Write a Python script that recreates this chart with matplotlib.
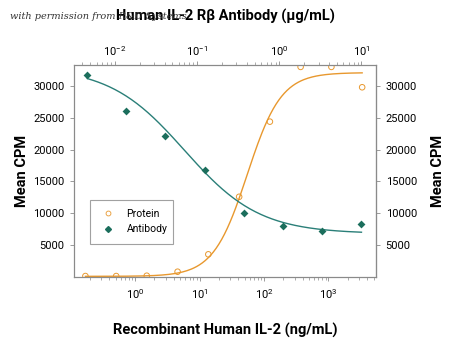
import matplotlib
matplotlib.use('Agg')
import matplotlib.pyplot as plt
from matplotlib.lines import Line2D
import numpy as np

plt.rcParams['font.family'] = ['Roboto', 'DejaVu Sans']
plt.rcParams['mathtext.fontset'] = 'custom'
plt.rcParams['mathtext.rm'] = 'Roboto'
plt.rcParams['mathtext.it'] = 'Roboto:italic'

# Recombinant Human IL-2 (ng/mL) -> Mean CPM
proteinConc = [0.17, 0.51, 1.52, 4.57, 13.7, 41.2, 123.5, 370, 1111, 3333]
proteinCPM = [150, 150, 200, 830, 3560, 12600, 24400, 33000, 33000, 29800]
# Human IL-2 Rbeta Antibody (ug/mL) -> Mean CPM
antibodyConc = [0.0046, 0.0137, 0.041, 0.123, 0.37, 1.11, 3.33, 10.0]
antibodyCPM = [31800, 26000, 22100, 16800, 10100, 8050, 7250, 8300]

# four-parameter logistic fit estimates (value at low conc, value at high conc, EC50, hill)
proteinFit = [100, 32100, 55.0, 1.65]
antibodyFit = [33000, 6800, 0.07, 0.95]

proteinColor = '#E8982E'
antibodyLine = '#2A7F78'
antibodyMarker = '#1B6E5C'
spineColor = '#8a8a8a'

def logistic(x, p):
    low, high, ec50, hill = p
    return low + (high - low) / (1 + (ec50 / x) ** hill)

fig = plt.figure(figsize=(4.5, 3.39), dpi=100)
ax = fig.add_axes([0.1644, 0.1829, 0.671, 0.6254])
ax.set_xscale('log')
ax.set_xlim(0.113, 5450)
ax.set_ylim(0, 33300)

axTop = ax.twiny()
axTop.set_xscale('log')
axTop.set_xlim(0.00316, 15)

xp = np.logspace(np.log10(proteinConc[0]), np.log10(proteinConc[-1]), 200)
ax.plot(xp, logistic(xp, proteinFit), color=proteinColor, lw=1.0, zorder=2)
ax.scatter(proteinConc, proteinCPM, marker='o', s=16, facecolors='none',
           edgecolors=proteinColor, linewidths=0.7, zorder=3)

xa = np.logspace(np.log10(antibodyConc[0]), np.log10(antibodyConc[-1]), 200)
axTop.plot(xa, logistic(xa, antibodyFit), color=antibodyLine, lw=1.0, zorder=2)
axTop.scatter(antibodyConc, antibodyCPM, marker='D', s=16, color=antibodyMarker,
              linewidths=0, zorder=3)

ax.set_yticks([5000, 10000, 15000, 20000, 25000, 30000])
ax.set_xticks([1, 10, 100, 1000])
ax.set_xticklabels([r'$10^{0}$', r'$10^{1}$', r'$10^{2}$', r'$10^{3}$'])
axTop.set_xticks([0.01, 0.1, 1, 10])
axTop.set_xticklabels([r'$10^{-2}$', r'$10^{-1}$', r'$10^{0}$', r'$10^{1}$'])

for a in (ax, axTop):
    for s in a.spines.values():
        s.set_color(spineColor)
        s.set_linewidth(0.8)
    a.tick_params(which='major', length=3, width=0.6, color=spineColor,
                  labelsize=8, pad=4)
    a.tick_params(which='minor', length=2, width=0.5, color=spineColor)
axTop.tick_params(which='major', pad=2)

secAx = ax.secondary_yaxis('right')
secAx.set_yticks([5000, 10000, 15000, 20000, 25000, 30000])
secAx.spines['right'].set_color(spineColor)
secAx.tick_params(length=3, width=0.6, color=spineColor, labelsize=8, pad=4)

labelFont = dict(fontsize=10.5, fontweight='bold')
ax.set_ylabel('Mean CPM', labelpad=3, **labelFont)
secAx.set_ylabel('Mean CPM', labelpad=10, **labelFont)
ax.set_xlabel('Recombinant Human IL-2 (ng/mL)', labelpad=16, **labelFont)
axTop.set_xlabel('Human IL-2 R\u03b2 Antibody (\u03bcg/mL)', labelpad=17, **labelFont)

handles = [Line2D([], [], marker='o', ls='none', markerfacecolor='none',
                  markeredgecolor=proteinColor, markersize=3.5, markeredgewidth=0.6),
           Line2D([], [], marker='D', ls='none', color=antibodyMarker, markersize=3)]
leg = ax.legend(handles, ['Protein', 'Antibody'], loc='center',
                bbox_to_anchor=(0.053, 0.16, 0.275, 0.203), mode='expand',
                borderaxespad=0, fontsize=7.5, frameon=True, fancybox=False,
                borderpad=0.9, handlelength=1.6, handletextpad=1.0,
                labelspacing=0.5)
leg.get_frame().set_edgecolor(spineColor)
leg.get_frame().set_linewidth(0.8)
leg.set_zorder(5)

fig.text(0.022, 0.945, 'with permission from R&D Systems', fontsize=7,
         style='italic', family='DejaVu Serif', color='#333333', zorder=0)

plt.savefig('out.png', dpi=100)
